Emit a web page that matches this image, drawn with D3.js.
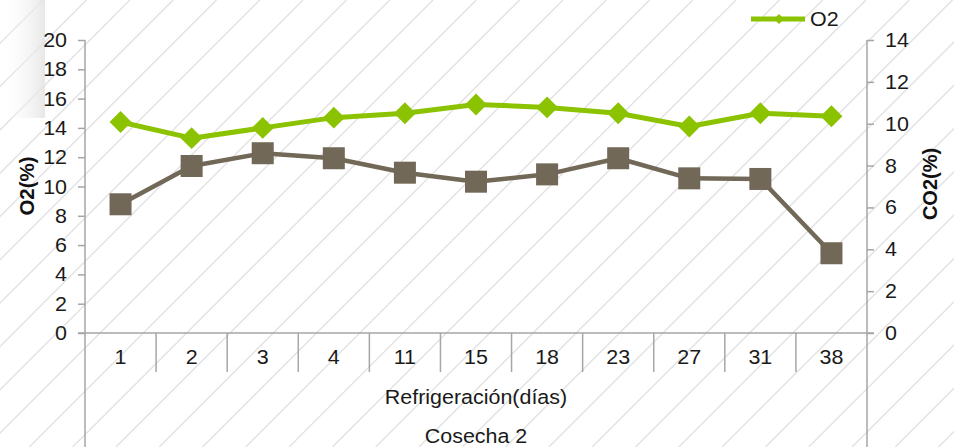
<!DOCTYPE html>
<html><head><meta charset="utf-8">
<script src="https://cdn.jsdelivr.net/npm/d3@7"></script>
<style>html,body{margin:0;padding:0;background:#fff;}svg{display:block;}</style>
</head><body>
<script>
const categories = ["1","2","3","4","11","15","18","23","27","31","38"];
const o2Values  = [14.4, 13.3, 14.0, 14.7, 15.0, 15.6, 15.4, 15.0, 14.1, 15.0, 14.8];
const co2Values = [6.15, 7.98, 8.59, 8.35, 7.66, 7.23, 7.58, 8.35, 7.39, 7.36, 3.81];
const leftTicks  = [0,2,4,6,8,10,12,14,16,18,20];
const rightTicks = [0,2,4,6,8,10,12,14];
const xTitle = "Refrigeración(días)";
const groupTitle = "Cosecha 2";
const leftTitle = "O2(%)";
const rightTitle = "CO2(%)";
const legendLabel = "O2";

const W = 954, H = 447;
const L = 85, R = 867, T = 40, B = 333;
const FONT = "'Liberation Sans', Arial, sans-serif";
const FS = 19.5, SX = 1.1;
const GREEN = "#8cc300", BROWN = "#726858", AXIS = "#a6a6a6", TXT = "#1a1a1a";

const svg = d3.select("body").append("svg").attr("width", W).attr("height", H);
const defs = svg.append("defs");
const grad = defs.append("linearGradient").attr("id","shade").attr("x1","0").attr("x2","1").attr("y1","0").attr("y2","0");
grad.append("stop").attr("offset","0").attr("stop-color","#ffffff").attr("stop-opacity",0);
grad.append("stop").attr("offset","1").attr("stop-color","#e3e3e3").attr("stop-opacity",1);

svg.append("rect").attr("width",W).attr("height",H).attr("fill","#fff");

// hatch background
const hatch = svg.append("g").attr("stroke","#e2e2e2").attr("stroke-width",1.4);
for (let c = -H; c < W + 10; c += 43.3) {
  hatch.append("line").attr("x1", c).attr("y1", H).attr("x2", c + H).attr("y2", 0);
}
// top-left shadow artifact
svg.append("rect").attr("x",0).attr("y",0).attr("width",45).attr("height",118).attr("fill","url(#shade)").attr("opacity",0.85);

function hText(parent, x, y, anchor, str, size) {
  return parent.append("text")
    .attr("transform", `translate(${x},${y}) scale(${SX},1)`)
    .attr("text-anchor", anchor).attr("font-family", FONT)
    .attr("font-size", size || FS).attr("fill", TXT).text(str);
}

const x = d3.scaleBand().domain(categories).range([L, R]).padding(0);
const yL = d3.scaleLinear().domain([0,20]).range([B, T]);
const yR = d3.scaleLinear().domain([0,14]).range([B, T]);

// left axis
const gL = svg.append("g").attr("transform", `translate(${L},0)`)
  .call(d3.axisLeft(yL).tickValues(leftTicks).tickSize(7).tickFormat(""));
gL.select(".domain").remove();
gL.selectAll(".tick line").attr("stroke", AXIS).attr("stroke-width",1.5);
const gLt = svg.append("g");
leftTicks.forEach(v => hText(gLt, 67, yL(v) + 7, "end", String(v)));
svg.append("line").attr("x1",L).attr("x2",L).attr("y1",T).attr("y2",H).attr("stroke",AXIS).attr("stroke-width",1.5);

// right axis
const gR = svg.append("g").attr("transform", `translate(${R},0)`)
  .call(d3.axisRight(yR).tickValues(rightTicks).tickSize(7).tickFormat(""));
gR.select(".domain").remove();
gR.selectAll(".tick line").attr("stroke", AXIS).attr("stroke-width",1.5);
const gRt = svg.append("g");
rightTicks.forEach(v => hText(gRt, 885, yR(v) + 7, "start", String(v)));
svg.append("line").attr("x1",R).attr("x2",R).attr("y1",T).attr("y2",H).attr("stroke",AXIS).attr("stroke-width",1.5);

// bottom axis
svg.append("line").attr("x1",L-7).attr("x2",R+7).attr("y1",B).attr("y2",B).attr("stroke",AXIS).attr("stroke-width",1.5);
svg.append("g").selectAll("line").data(categories.slice(1)).join("line")
  .attr("x1", d => x(d)).attr("x2", d => x(d)).attr("y1", B).attr("y2", B + 39)
  .attr("stroke", AXIS).attr("stroke-width", 1.5);
const gX = svg.append("g");
categories.forEach(c => hText(gX, x(c) + x.bandwidth()/2, B + 31, "middle", c));

hText(svg, 476, 404, "middle", xTitle);
hText(svg, 476, 443, "middle", groupTitle);

// axis titles
svg.append("text").attr("transform","translate(34,186) rotate(-90)").attr("text-anchor","middle")
  .attr("font-family",FONT).attr("font-size",20.5).attr("font-weight","bold").attr("fill","#111").text(leftTitle);
svg.append("text").attr("transform","translate(937,184) rotate(-90)").attr("text-anchor","middle")
  .attr("font-family",FONT).attr("font-size",20).attr("font-weight","bold").attr("fill","#111").text(rightTitle);

// CO2 series (right axis)
const cx = (d,i) => x(categories[i]) + x.bandwidth()/2;
svg.append("path").datum(co2Values)
  .attr("d", d3.line().x(cx).y(d => yR(d)))
  .attr("fill","none").attr("stroke",BROWN).attr("stroke-width",4.5).attr("stroke-linejoin","round");
svg.append("g").selectAll("rect").data(co2Values).join("rect")
  .attr("x",(d,i)=>cx(d,i)-11).attr("y",d=>yR(d)-11).attr("width",22).attr("height",22)
  .attr("fill",BROWN);

// O2 series (left axis)
svg.append("path").datum(o2Values)
  .attr("d", d3.line().x(cx).y(d => yL(d)))
  .attr("fill","none").attr("stroke",GREEN).attr("stroke-width",5).attr("stroke-linejoin","round");
svg.append("g").selectAll("path").data(o2Values).join("path")
  .attr("d", d3.symbol().type(d3.symbolSquare).size(240)())
  .attr("transform",(d,i)=>`translate(${cx(d,i)},${yL(d)}) rotate(45)`)
  .attr("fill",GREEN);

// legend
svg.append("line").attr("x1",751).attr("x2",805).attr("y1",19).attr("y2",19).attr("stroke",GREEN).attr("stroke-width",5);
svg.append("path").attr("d", d3.symbol().type(d3.symbolSquare).size(50)())
  .attr("transform","translate(779,19) rotate(45)").attr("fill",GREEN);
hText(svg, 810, 26, "start", legendLabel);
</script>
</body></html>
